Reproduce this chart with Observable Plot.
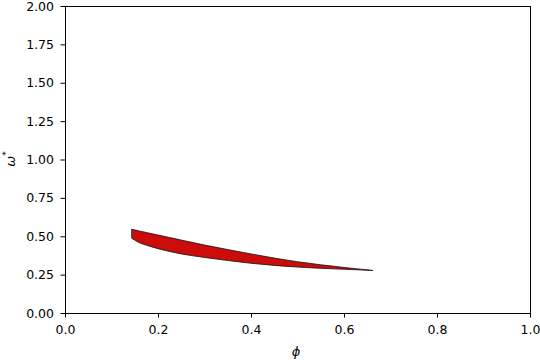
<!DOCTYPE html>
<html><head><meta charset="utf-8">
<script src="https://cdn.jsdelivr.net/npm/d3@7"></script>
<script src="https://cdn.jsdelivr.net/npm/@observablehq/plot@0.6"></script>
<style>body{margin:0;background:#fff;} svg{font-family:"DejaVu Sans",sans-serif;overflow:visible;}</style>
</head><body><div id="chart"></div>
<script>
const phi    = [0.144, 0.160, 0.180, 0.200, 0.250, 0.300, 0.350, 0.400, 0.450, 0.500, 0.550, 0.600, 0.662];
const upper  = [0.545, 0.534, 0.521, 0.508, 0.475, 0.443, 0.413, 0.385, 0.358, 0.334, 0.314, 0.297, 0.277];
const lower  = [0.486, 0.458, 0.437, 0.419, 0.385, 0.362, 0.342, 0.324, 0.310, 0.299, 0.291, 0.285, 0.277];
const xTicks = [0, 0.2, 0.4, 0.6, 0.8, 1.0];
const yTicks = [0, 0.25, 0.5, 0.75, 1.0, 1.25, 1.5, 1.75, 2.0];
const xLabel = "ϕ";
const yLabel = "ω";

const data = phi.map((p, i) => ({phi: p, lo: lower[i], hi: upper[i]}));

const chart = Plot.plot({
  width: 540, height: 360,
  marginLeft: 65, marginRight: 10, marginTop: 6, marginBottom: 47,
  style: {fontFamily: "DejaVu Sans, sans-serif", fontSize: "12.5px", color: "#000", background: "#fff"},
  x: {domain: [0, 1], ticks: xTicks, tickFormat: d3.format(".1f"), label: null},
  y: {domain: [0, 2], ticks: yTicks, tickFormat: d3.format(".2f"), label: null},
  marks: [
    Plot.areaY(data, {x: "phi", y1: "lo", y2: "hi", curve: "monotone-x", fill: "#cc0b0b", stroke: "#111", strokeWidth: 0.8}),
    Plot.frame({stroke: "#000", strokeWidth: 1}),
    Plot.axisX({ticks: xTicks, tickFormat: d3.format(".1f"), tickSize: 4.5, tickPadding: 7.5, fontSize: 12.5, label: null}),
    Plot.axisY({ticks: yTicks, tickFormat: d3.format(".2f"), tickSize: 4.5, tickPadding: 7, fontSize: 12.5, label: null})
  ]
});
document.getElementById("chart").appendChild(chart);

const svg = d3.select(chart);
svg.append("text")
  .attr("x", 296).attr("y", 356)
  .attr("text-anchor", "middle").attr("font-size", 13).attr("font-style", "italic").attr("fill", "#000")
  .text(xLabel);
const yl = svg.append("text")
  .attr("transform", "translate(15,159) rotate(-90)")
  .attr("text-anchor", "middle").attr("font-size", 13).attr("font-style", "italic").attr("fill", "#000");
yl.append("tspan").text(yLabel);
yl.append("tspan").attr("dy", -6).attr("font-size", 9).attr("font-style", "normal").text("*");
</script></body></html>
